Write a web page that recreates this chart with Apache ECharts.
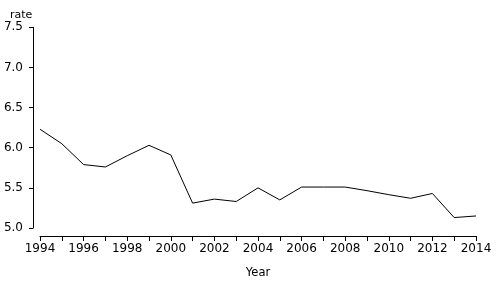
<!DOCTYPE html>
<html><head><meta charset="utf-8">
<script src="https://cdn.jsdelivr.net/npm/echarts@6/dist/echarts.min.js"></script>
<style>html,body{margin:0;padding:0;background:#fff}#c{width:496px;height:284px}</style>
</head><body><div id="c"></div>
<script>
const years = ['1994','1995','1996','1997','1998','1999','2000','2001','2002','2003','2004','2005','2006','2007','2008','2009','2010','2011','2012','2013','2014'];
const rate = [6.23,6.05,5.79,5.76,5.90,6.03,5.91,5.31,5.36,5.33,5.50,5.35,5.51,5.51,5.51,5.465,5.415,5.37,5.43,5.13,5.15];
const yTicks = {min:5.0, max:7.5, step:0.5};
const font = 'DejaVu Sans';
const chart = echarts.init(document.getElementById('c'), null, {renderer:'canvas'});
chart.setOption({
  animation:false,
  backgroundColor:'#fff',
  title:{text:'rate', left:5, top:5, textStyle:{fontFamily:font, fontSize:11, fontWeight:'normal', color:'#000'}},
  grid:{left:40, right:20, top:27.3, bottom:50.5, containLabel:false},
  xAxis:{type:'category', data:years, boundaryGap:false, offset:8,
    name:'Year', nameLocation:'middle', nameGap:31,
    nameTextStyle:{fontFamily:font, fontSize:11.5, color:'#000'},
    axisLine:{lineStyle:{color:'#000', width:1}},
    axisTick:{interval:0, length:5, lineStyle:{color:'#000'}},
    axisLabel:{interval:1, margin:7, fontFamily:font, fontSize:12, color:'#000'},
    splitLine:{show:false}},
  yAxis:{type:'value', min:yTicks.min, max:yTicks.max, interval:yTicks.step, offset:7,
    axisLine:{show:true, lineStyle:{color:'#000', width:1}},
    axisTick:{show:true, length:4, lineStyle:{color:'#000'}},
    axisLabel:{margin:10, fontFamily:font, fontSize:12, color:'#000', formatter:v=>v.toFixed(1)},
    splitLine:{show:false}},
  series:[{type:'line', data:rate, symbol:'none', lineStyle:{color:'#000', width:1}}]
});
</script></body></html>
